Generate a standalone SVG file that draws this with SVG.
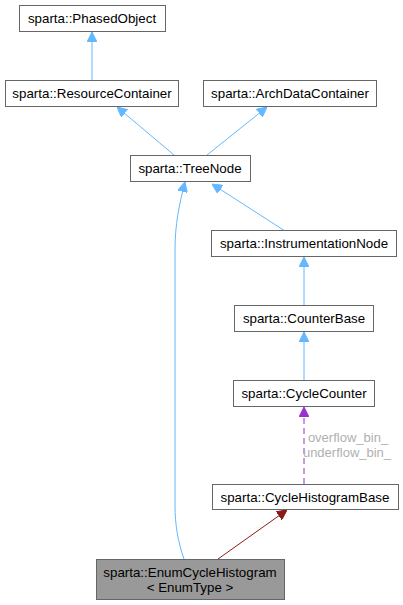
<svg xmlns="http://www.w3.org/2000/svg" width="403" height="605" viewBox="0 0 403 605">
<style>
.n rect{fill:#fff;stroke:#666;stroke-width:1}
.n text{font-family:"Liberation Sans",Arial,sans-serif;font-size:13.33px;fill:#000;text-anchor:middle}
.e{fill:none;stroke-width:1}
.b{stroke:#63b8ff}
.p{stroke:#9a32cd;stroke-dasharray:6,4}
.r{stroke:#8b1a1a}
.lbl{font-family:"Liberation Sans",Arial,sans-serif;font-size:13px;fill:#b0b0b0;text-anchor:middle}
</style>
<defs>
<marker id="ab" viewBox="0 0 10 10" refX="10" refY="5" markerWidth="10" markerHeight="10" markerUnits="userSpaceOnUse" orient="auto"><path d="M0,0 L10,5 L0,10 z" fill="#63b8ff" stroke="#63b8ff"/></marker>
<marker id="ap" viewBox="0 0 10 10" refX="10" refY="5" markerWidth="10" markerHeight="10" markerUnits="userSpaceOnUse" orient="auto"><path d="M0,0 L10,5 L0,10 z" fill="#9a32cd" stroke="#9a32cd"/></marker>
<marker id="ar" viewBox="0 0 10 10" refX="10" refY="5" markerWidth="10" markerHeight="10" markerUnits="userSpaceOnUse" orient="auto"><path d="M0,0 L10,5 L0,10 z" fill="#8b1a1a" stroke="#8b1a1a"/></marker>
</defs>
<g id="edges">
<path class="e b" d="M92,80 L92,32" marker-end="url(#ab)"/>
<path class="e b" d="M174,155 L117,107" marker-end="url(#ab)"/>
<path class="e b" d="M207,155 L267,107" marker-end="url(#ab)"/>
<path class="e b" d="M184,559 C178,542 175,525 175,505 L175,250 C175,225 179,205 185,182" marker-end="url(#ab)"/>
<path class="e b" d="M285,231 L212,184" marker-end="url(#ab)"/>
<path class="e b" d="M304,305 L304,257" marker-end="url(#ab)"/>
<path class="e b" d="M304,380 L304,332" marker-end="url(#ab)"/>
<path class="e p" d="M304,484 L304,407" marker-end="url(#ap)"/>
<path class="e r" d="M218,559 L287,510" marker-end="url(#ar)"/>
<text class="lbl" x="348" y="442">overflow_bin_</text>
<text class="lbl" x="347" y="457">underflow_bin_</text>
</g>
<g id="PhasedObject" class="n"><rect x="19.5" y="5.5" width="146" height="26"/><text x="92" y="23">sparta::PhasedObject</text></g>
<g id="ResourceContainer" class="n"><rect x="5.5" y="80.5" width="173" height="26"/><text x="92" y="98">sparta::ResourceContainer</text></g>
<g id="ArchDataContainer" class="n"><rect x="203.5" y="80.5" width="173" height="26"/><text x="290" y="98">sparta::ArchDataContainer</text></g>
<g id="TreeNode" class="n"><rect x="130.5" y="155.5" width="120" height="26"/><text x="190" y="173">sparta::TreeNode</text></g>
<g id="InstrumentationNode" class="n"><rect x="211.5" y="230.5" width="185" height="26"/><text x="304" y="248">sparta::InstrumentationNode</text></g>
<g id="CounterBase" class="n"><rect x="234.5" y="305.5" width="139" height="26"/><text x="304" y="323">sparta::CounterBase</text></g>
<g id="CycleCounter" class="n"><rect x="233.5" y="380.5" width="141" height="26"/><text x="304" y="398">sparta::CycleCounter</text></g>
<g id="CycleHistogramBase" class="n"><rect x="212.5" y="484.5" width="186" height="25"/><text x="305" y="502">sparta::CycleHistogramBase</text></g>
<g id="EnumCycleHistogram" class="n"><rect x="96.5" y="559.5" width="188" height="40" style="fill:#999"/><text x="190" y="577">sparta::EnumCycleHistogram</text><text x="190" y="592">&lt; EnumType &gt;</text></g>
</svg>
